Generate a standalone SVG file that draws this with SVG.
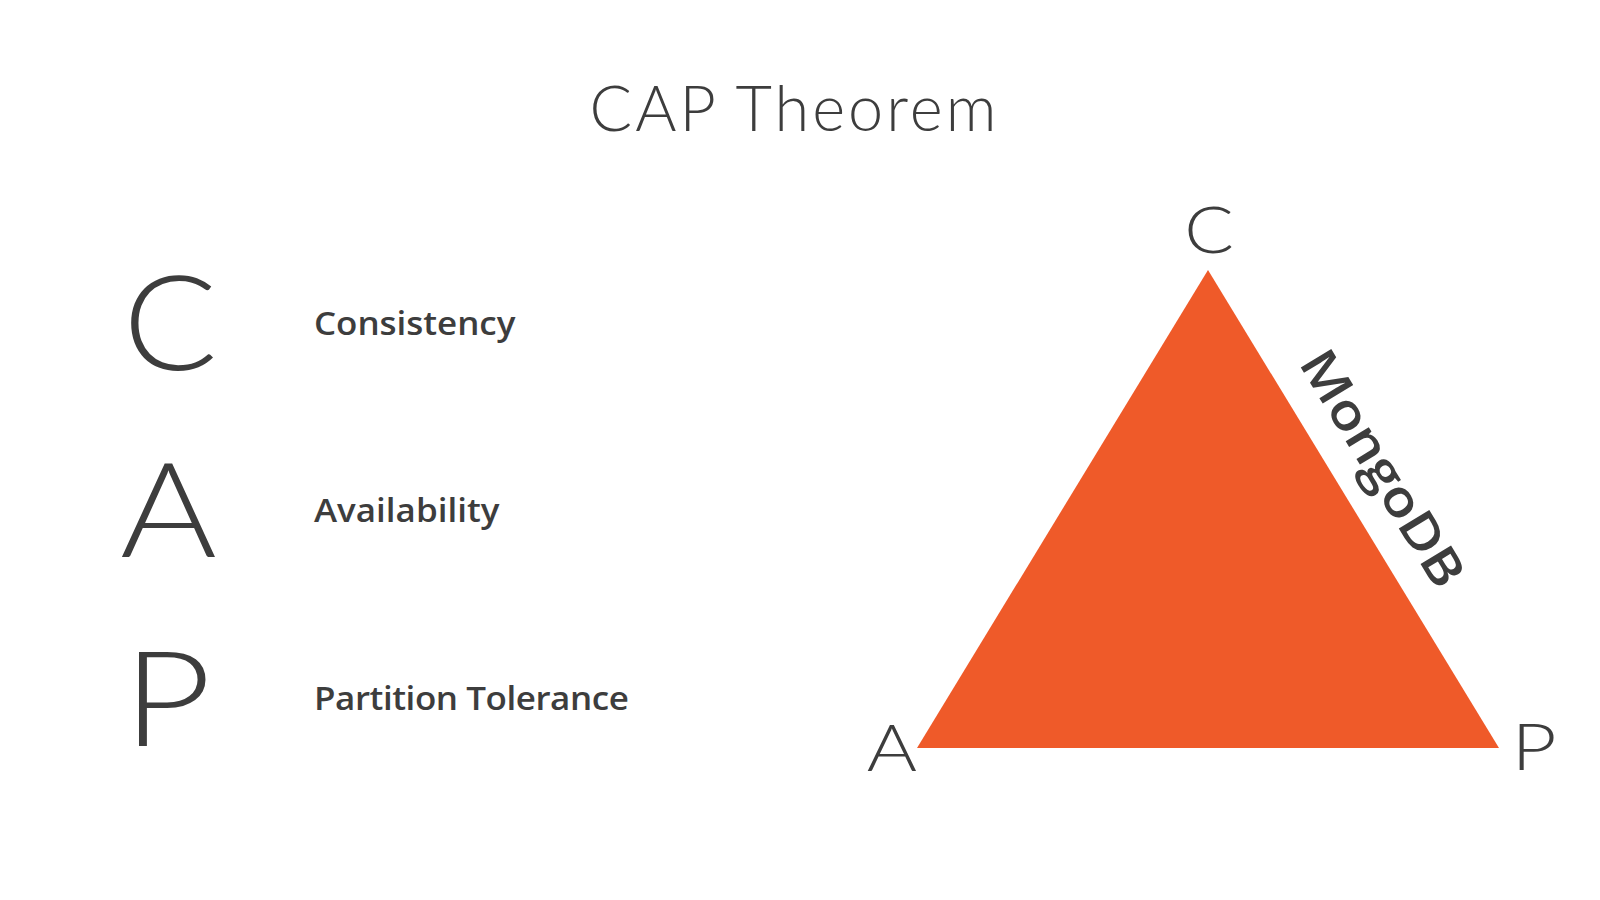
<svg xmlns="http://www.w3.org/2000/svg" width="1600" height="900" viewBox="0 0 1600 900">
<style>
.t{fill:#3d3d3d;font-family:Lato,"Liberation Sans",sans-serif}
.thin{font-weight:300}
.med{font-family:"Open Sans","Liberation Sans",sans-serif;font-weight:600}
</style>
<rect width="1600" height="900" fill="#ffffff"/>
<text class="t thin" x="793" y="131" font-size="63" text-anchor="middle" textLength="407">CAP Theorem</text>
<g id="node-c">
<text class="t thin" transform="translate(123,370) scale(1.06,1)" font-size="132">C</text>
<text class="t med" transform="translate(314,335) scale(1.06,1)" font-size="33" textLength="190">Consistency</text>
</g>
<g id="node-a">
<text class="t thin" transform="translate(120,557) scale(1.12,1)" font-size="132">A</text>
<text class="t med" transform="translate(314,522) scale(1.06,1)" font-size="33" textLength="175">Availability</text>
</g>
<g id="node-p">
<text class="t thin" transform="translate(123,746) scale(1.16,1)" font-size="132">P</text>
<text class="t med" transform="translate(314,710) scale(1.06,1)" font-size="33" textLength="297">Partition Tolerance</text>
</g>
<g id="triangle">
<polygon points="1208,270 1499,748 917,748" fill="#ef5a29"/>
<text class="t thin" transform="translate(1209,253) scale(1.13,1)" font-size="65" text-anchor="middle">C</text>
<text class="t thin" transform="translate(892,771) scale(1.18,1)" font-size="65" text-anchor="middle">A</text>
<text class="t thin" transform="translate(1534,770) scale(1.2,1)" font-size="65" text-anchor="middle">P</text>
<text class="t med" transform="translate(1298,363) rotate(58.66) scale(1.15,1)" font-size="50" textLength="233">MongoDB</text>
</g>
</svg>
